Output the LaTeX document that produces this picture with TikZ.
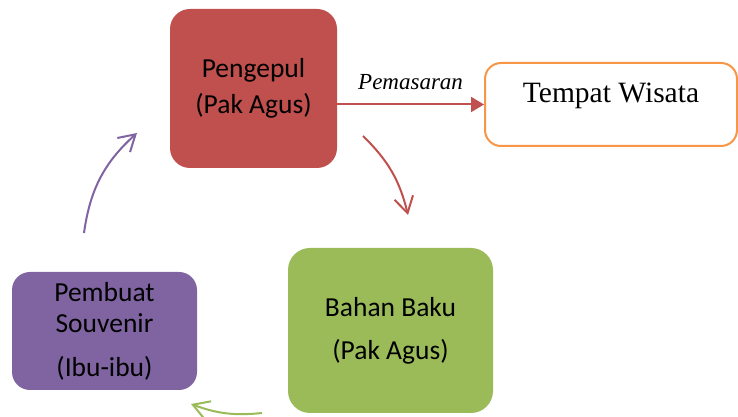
\documentclass[tikz,border=0pt]{standalone}
\usepackage{fontspec}
\setmainfont{Carlito}
\newfontfamily\timesfont{Liberation Serif}
\usepackage{tikz}
\usetikzlibrary{arrows.meta}
\definecolor{boxred}{HTML}{C0504D}
\definecolor{boxorange}{HTML}{F79646}
\definecolor{boxgreen}{HTML}{9BBB59}
\definecolor{boxpurple}{HTML}{8064A2}

\begin{document}
\begin{tikzpicture}[x=1pt,y=1pt,
  box/.style={rectangle,rounded corners=20pt,align=center,inner sep=0pt,
    font=\fontsize{27.5}{31}\selectfont},
  cycarrow/.style={line width=2pt,-{Straight Barb[length=16pt,width=19pt]}}]
\useasboundingbox (0,0) rectangle (738,417);
%Boxes
\node at (253.5,328.5)[box,fill=boxred,minimum width=167pt,minimum height=159pt] (pengepul) {Pengepul\\[5pt](Pak Agus)};
\node at (611,312.5)[box,draw=boxorange,line width=2pt,fill=white,rounded corners=16pt,minimum width=252pt,minimum height=83pt,
  font=\timesfont\fontsize{29.5}{34}\selectfont,text height=21pt,text depth=24pt] (wisata) {Tempat Wisata};
\node at (390.5,86.5)[box,fill=boxgreen,rounded corners=22pt,minimum width=205pt,minimum height=165pt] (bahan) {Bahan Baku\\[12pt](Pak Agus)};
\node at (104.5,86)[box,fill=boxpurple,rounded corners=18pt,minimum width=185pt,minimum height=118pt] (pembuat) {Pembuat\\Souvenir\\[13pt](Ibu-ibu)};
%Marketing
\draw[-{Triangle[length=13pt,width=15pt]},line width=2pt,draw=boxred] (pengepul.east |- wisata.west) -- node[anchor=base,yshift=15pt,font=\timesfont\itshape\fontsize{23}{27}\selectfont] (pemasaran) {Pemasaran} (wisata.west);
%Cycle
\coordinate (redA) at (363,281);
\coordinate (redB) at (408,202);
\coordinate (greenA) at (262,4);
\coordinate (greenB) at (191,13);
\coordinate (purpleA) at (84,184);
\coordinate (purpleB) at (137,284);
\draw[cycarrow,boxred] (redA) to[bend left=16] (redB);
\draw[cycarrow,boxgreen] (greenA) to[bend left=13] (greenB);
\draw[cycarrow,boxpurple] (purpleA) to[bend left=20] (purpleB);
\end{tikzpicture}
\end{document}
